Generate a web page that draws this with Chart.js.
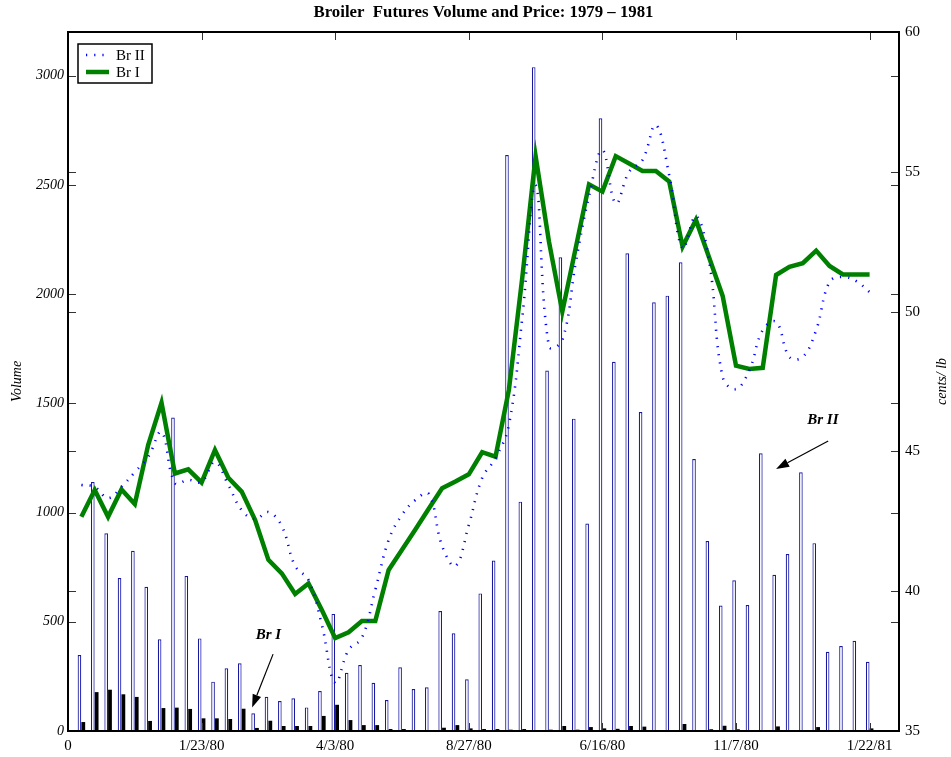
<!DOCTYPE html>
<html>
<head>
<meta charset="utf-8">
<script src="https://cdn.jsdelivr.net/npm/chart.js@4.4.1/dist/chart.umd.min.js"></script>
<style>
  html, body { margin: 0; padding: 0; background: #fff; }
  canvas { display: block; }
</style>
</head>
<body>
<canvas id="chart" width="951" height="757"></canvas>
<script>
// weekly observations, week 1 .. 60
const weeks = [1, 2, 3, 4, 5, 6, 7, 8, 9, 10, 11, 12, 13, 14, 15, 16, 17, 18, 19, 20,
    21, 22, 23, 24, 25, 26, 27, 28, 29, 30, 31, 32, 33, 34, 35, 36, 37, 38, 39, 40,
    41, 42, 43, 44, 45, 46, 47, 48, 49, 50, 51, 52, 53, 54, 55, 56, 57, 58, 59, 60];

const brIIVolume = [348, 1140, 905, 700, 825, 660, 420, 1435, 710, 424,
    226, 287, 310, 81, 157, 137, 150, 108, 183, 536,
    267, 302, 221, 142, 292, 192, 200, 549, 447, 237,
    630, 780, 2637, 1050, 3039, 1650, 2169, 1430, 950, 2805,
    1690, 2187, 1460, 1963, 1993, 2146, 1245, 870, 574, 690,
    577, 1271, 715, 810, 1184, 860, 363, 389, 413, 317];

const brIVolume = [41, 178, 189, 168, 156, 46, 105, 107, 101, 58,
    58, 55, 102, 14, 47, 23, 23, 23, 69, 120,
    50, 27, 27, 9, 9, 3, 3, 15, 27, 12,
    9, 9, 6, 9, 3, 6, 23, 6, 18, 12,
    10, 23, 20, 0, 0, 32, 3, 8, 24, 8,
    0, 0, 21, 4, 0, 18, 2, 0, 0, 12];

const brIIPrice = [43.8, 43.73, 43.33, 43.73, 44.26, 44.8, 45.69, 43.87, 43.98, 43.91,
    44.62, 43.8, 42.9, 42.58, 42.83, 42.33, 40.9, 40.4, 38.8, 36.72,
    37.9, 38.33, 40.04, 41.83, 42.73, 43.26, 43.48, 41.62, 40.9, 42.37,
    44.05, 44.76, 45.94, 49.77, 54.53, 48.75, 48.98, 51.74, 54.13, 55.78,
    53.87, 55.0, 55.42, 56.67, 54.88, 52.26, 53.42, 51.77, 47.66, 47.23,
    47.91, 49.34, 49.63, 48.38, 48.38, 49.34, 51.06, 51.24, 51.09, 50.7];

const brIPrice = [42.66, 43.62, 42.66, 43.64, 43.12, 45.23, 46.74, 44.21, 44.36, 43.89,
    45.05, 44.06, 43.56, 42.55, 41.12, 40.64, 39.9, 40.28, 39.33, 38.32,
    38.53, 38.93, 38.93, 40.76, 41.48, 42.21, 42.95, 43.68, 43.92, 44.18,
    44.97, 44.81, 47.2, 51.2, 55.56, 52.5, 50.0, 52.27, 54.55, 54.29,
    55.56, 55.3, 55.03, 55.03, 54.65, 52.32, 53.28, 51.92, 50.56, 48.07,
    47.95, 47.99, 51.31, 51.6, 51.73, 52.18, 51.63, 51.33, 51.33, 51.33];

const xTickValues = [0, 10, 20, 30, 40, 50, 60];
const xTickLabels = ["0", "1/23/80", "4/3/80", "8/27/80", "6/16/80", "11/7/80", "1/22/81"];
const volTicks = [0, 500, 1000, 1500, 2000, 2500, 3000];
const priceTicks = [35, 40, 45, 50, 55, 60];

const titleText = "Broiler  Futures Volume and Price: 1979 \u2013 1981";

// callouts, in data units (week, volume)
const callouts = [
    { text: "Br I", at: [15, 440], from: [15.35, 352], to: [13.78, 108] },
    { text: "Br II", at: [56.5, 1424], from: [56.9, 1328], to: [53.0, 1200] }
];

const serif = "'Liberation Serif', 'Times New Roman', serif";
const dotted = [1.2, 7];

const pts = (ys) => weeks.map((w, i) => ({ x: w, y: ys[i] }));
const fixTicks = (values) => (s) => { s.ticks = values.map(v => ({ value: v })); };

const framePlugin = {
    id: "frame",
    afterDatasetsDraw(chart) {
        const { ctx, chartArea: a, scales } = chart;
        const tick = 8;
        ctx.save();

        // inward tick marks on all four sides
        ctx.strokeStyle = "#333";
        ctx.lineWidth = 1;
        ctx.beginPath();
        scales.x.ticks.forEach(t => {
            const px = Math.round(scales.x.getPixelForValue(t.value)) + 0.5;
            ctx.moveTo(px, a.bottom); ctx.lineTo(px, a.bottom - tick);
            ctx.moveTo(px, a.top); ctx.lineTo(px, a.top + tick);
        });
        [scales.yVol, scales.yPrice].forEach(s => {
            s.ticks.forEach(t => {
                const py = Math.round(s.getPixelForValue(t.value)) + 0.5;
                ctx.moveTo(a.left, py); ctx.lineTo(a.left + tick, py);
                ctx.moveTo(a.right, py); ctx.lineTo(a.right - tick, py);
            });
        });
        ctx.stroke();

        // box
        ctx.strokeStyle = "#000";
        ctx.lineWidth = 2;
        ctx.strokeRect(a.left, a.top, a.right - a.left, a.bottom - a.top);

        // title
        ctx.fillStyle = "#000";
        ctx.font = `bold 16.8px ${serif}`;
        ctx.textAlign = "center";
        ctx.textBaseline = "middle";
        ctx.fillText(titleText, (a.left + a.right) / 2, 13);

        // axis titles, both reading bottom to top
        ctx.font = `italic 14px ${serif}`;
        const midY = (a.top + a.bottom) / 2;
        ctx.save();
        ctx.translate(17, midY);
        ctx.rotate(-Math.PI / 2);
        ctx.fillText("Volume", 0, 0);
        ctx.restore();
        ctx.save();
        ctx.translate(942, midY);
        ctx.rotate(-Math.PI / 2);
        ctx.fillText("cents/ lb", 0, 0);
        ctx.restore();

        // legend
        const lx = 78, ly = 44, lw = 74, lh = 39;
        ctx.fillStyle = "#fff";
        ctx.fillRect(lx, ly, lw, lh);
        ctx.strokeStyle = "#000";
        ctx.lineWidth = 1.5;
        ctx.strokeRect(lx, ly, lw, lh);
        const entries = [chart.data.datasets[0], chart.data.datasets[1]];
        entries.forEach((ds, i) => {
            const y = ly + 11 + i * 17;
            ctx.save();
            ctx.strokeStyle = ds.borderColor;
            ctx.lineWidth = ds.borderWidth;
            ctx.setLineDash(ds.borderDash || []);
            ctx.beginPath();
            ctx.moveTo(lx + 8, y);
            ctx.lineTo(lx + 31, y);
            ctx.stroke();
            ctx.restore();
            ctx.fillStyle = "#000";
            ctx.font = `15px ${serif}`;
            ctx.textAlign = "left";
            ctx.fillText(ds.label, lx + 38, y + 1);
        });

        // callouts with arrows
        const X = scales.x, Y = scales.yVol;
        callouts.forEach(c => {
            const tx = X.getPixelForValue(c.at[0]), ty = Y.getPixelForValue(c.at[1]);
            ctx.fillStyle = "#000";
            ctx.font = `bold italic 15px ${serif}`;
            ctx.textAlign = "center";
            ctx.fillText(c.text, tx, ty);
            const x1 = X.getPixelForValue(c.from[0]), y1 = Y.getPixelForValue(c.from[1]);
            const x2 = X.getPixelForValue(c.to[0]), y2 = Y.getPixelForValue(c.to[1]);
            const ang = Math.atan2(y2 - y1, x2 - x1);
            const head = 13, half = 4.5;
            const bx = x2 - head * Math.cos(ang), by = y2 - head * Math.sin(ang);
            ctx.strokeStyle = "#000";
            ctx.lineWidth = 1.2;
            ctx.beginPath();
            ctx.moveTo(x1, y1);
            ctx.lineTo(bx, by);
            ctx.stroke();
            ctx.beginPath();
            ctx.moveTo(x2, y2);
            ctx.lineTo(bx + half * Math.sin(ang), by - half * Math.cos(ang));
            ctx.lineTo(bx - half * Math.sin(ang), by + half * Math.cos(ang));
            ctx.closePath();
            ctx.fill();
        });

        ctx.restore();
    }
};

new Chart(document.getElementById("chart"), {
    type: "bar",
    data: {
        datasets: [
            {
                type: "line",
                label: "Br II",
                data: pts(brIIPrice),
                yAxisID: "yPrice",
                borderColor: "#0000ff",
                borderWidth: 2.6,
                borderDash: dotted,
                borderCapStyle: "butt",
                tension: 0.4,
                pointRadius: 0,
                fill: false,
                order: 0
            },
            {
                type: "line",
                label: "Br I",
                data: pts(brIPrice),
                yAxisID: "yPrice",
                borderColor: "#008000",
                borderWidth: 4.5,
                tension: 0,
                pointRadius: 0,
                fill: false,
                order: 0
            },
            {
                label: "Br II volume",
                data: pts(brIIVolume),
                yAxisID: "yVol",
                backgroundColor: "#fff",
                borderColor: "rgb(25, 25, 160)",
                borderWidth: 1.2,
                barPercentage: 0.95,
                categoryPercentage: 0.57,
                order: 1
            },
            {
                label: "Br I volume",
                data: pts(brIVolume),
                yAxisID: "yVol",
                backgroundColor: "#000",
                borderWidth: 0,
                barPercentage: 1.0,
                categoryPercentage: 0.57,
                order: 1
            }
        ]
    },
    options: {
        responsive: false,
        animation: false,
        layout: { padding: { top: 32, left: 0, right: 0, bottom: 0 } },
        plugins: {
            legend: { display: false },
            title: { display: false },
            tooltip: { enabled: false }
        },
        scales: {
            x: {
                type: "linear",
                min: 0,
                max: 62.2,
                offset: false,
                grid: { display: false, drawTicks: false },
                border: { display: false },
                afterFit: (s) => { s.height = 26; },
                afterBuildTicks: fixTicks(xTickValues),
                ticks: {
                    padding: 6,
                    maxRotation: 0,
                    autoSkip: false,
                    color: "#000",
                    font: { family: serif, size: 15 },
                    callback: (v) => xTickLabels[xTickValues.indexOf(v)] ?? ""
                }
            },
            yVol: {
                type: "linear",
                position: "left",
                min: 0,
                max: 3200,
                grid: { display: false, drawTicks: false },
                border: { display: false },
                afterFit: (s) => { s.width = 68; },
                afterBuildTicks: fixTicks(volTicks),
                ticks: {
                    padding: 4,
                    autoSkip: false,
                    color: "#000",
                    font: { family: serif, size: 14, style: "italic" },
                    callback: (v) => String(v)
                }
            },
            yPrice: {
                type: "linear",
                position: "right",
                min: 35,
                max: 60,
                grid: { display: false, drawTicks: false },
                border: { display: false },
                afterFit: (s) => { s.width = 52; },
                afterBuildTicks: fixTicks(priceTicks),
                ticks: {
                    padding: 6,
                    autoSkip: false,
                    color: "#000",
                    font: { family: serif, size: 15 },
                    callback: (v) => String(v)
                }
            }
        }
    },
    plugins: [framePlugin]
});
</script>
</body>
</html>
